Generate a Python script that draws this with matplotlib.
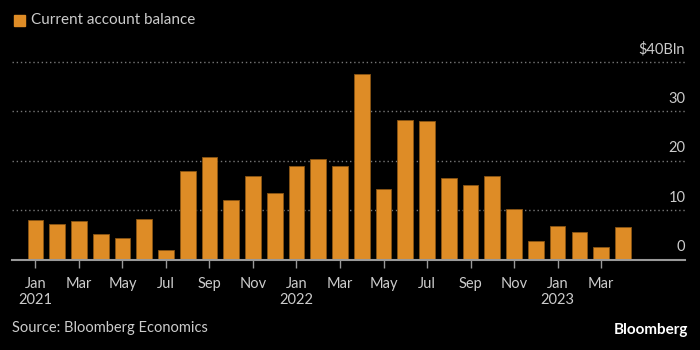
import numpy as np
import matplotlib.pyplot as plt

# monthly current account balance, $ bln (Jan 2021 .. Apr 2023)
months = ['Jan', 'Feb', 'Mar', 'Apr', 'May', 'Jun', 'Jul', 'Aug', 'Sep', 'Oct', 'Nov', 'Dec'] * 2 \
    + ['Jan', 'Feb', 'Mar', 'Apr']
years = [2021] * 12 + [2022] * 12 + [2023] * 4
balance = [8.1, 7.3, 7.9, 5.2, 4.5, 8.2, 2.0, 18.0, 20.7, 12.2, 17.0, 13.5,
           19.0, 20.3, 19.0, 37.6, 14.4, 28.2, 28.1, 16.5, 15.2, 16.9, 10.2, 3.9,
           6.9, 5.7, 2.7, 6.7]
y_ticks = [0, 10, 20, 30, 40]
y_labels = ['0', '10', '20', '30', '$40Bln']

plt.rcParams['font.family'] = ['Lato', 'DejaVu Sans']
bg = 'black'
bar_color = '#DE8C26'
txt = '#CCCCCC'

fig = plt.figure(figsize=(7, 3.5), dpi=100, facecolor=bg)
ax = fig.add_axes([0.017, 0.257, 0.962, 0.581], facecolor=bg)

x = np.arange(len(balance))
ax.bar(x, balance, width=0.72, color=bar_color, edgecolor='#8a5514', linewidth=0.6, zorder=3)

ax.set_xlim(-1.08, 29.87)
ax.set_ylim(0, 41)

# x ticks every two months
xt = x[::2]
xl = [m + ('\n' + str(y) if m == 'Jan' else '') for m, y in zip(months[::2], years[::2])]
ax.set_xticks(xt)
ax.set_xticklabels(xl, color=txt, fontsize=10.5, linespacing=1.25)
ax.tick_params(axis='x', length=6, width=1, color='#999999', pad=6)

# y gridlines with labels sitting above them on the right
ax.yaxis.tick_right()
ax.set_yticks(y_ticks)
ax.set_yticklabels(y_labels, color=txt, fontsize=10.5)
ax.tick_params(axis='y', length=0, pad=0)
for lab in ax.get_yticklabels():
    lab.set_horizontalalignment('right')
    lab.set_verticalalignment('bottom')
    lab.set_y(lab.get_position()[1])
import matplotlib.transforms as mtransforms
offset = mtransforms.ScaledTranslation(0, 4 / 72, fig.dpi_scale_trans)
for lab in ax.get_yticklabels():
    lab.set_transform(lab.get_transform() + offset)
ax.grid(axis='y', color='#777777', linestyle=(0, (1, 2)), linewidth=1, zorder=0)
ax.grid(axis='x', visible=False)

for s in ['top', 'left', 'right']:
    ax.spines[s].set_visible(False)
ax.spines['bottom'].set_color('#999999')
ax.spines['bottom'].set_linewidth(1.5)
ax.spines['bottom'].set_zorder(4)

# legend
fig.patches.append(plt.Rectangle((14 / 700, 1 - 26 / 350), 11 / 700, 11 / 350,
                                 transform=fig.transFigure, color=bar_color))
fig.text(31 / 700, 1 - 20 / 350, 'Current account balance', color=txt, fontsize=11, va='center')

fig.text(12 / 700, 1 - 328 / 350, 'Source: Bloomberg Economics', color=txt, fontsize=10.5, va='center')
fig.text(688 / 700, 1 - 330 / 350, 'Bloomberg', color='white', fontsize=11, fontweight='bold',
         va='center', ha='right')

fig.savefig('out.png', dpi=100, facecolor=bg)
